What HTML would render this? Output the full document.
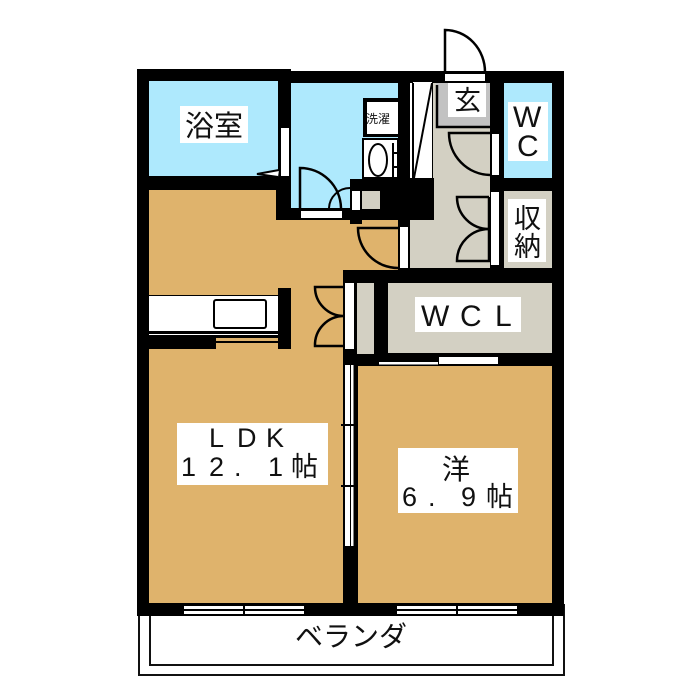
<!DOCTYPE html>
<html><head><meta charset="utf-8"><style>html,body{margin:0;padding:0;background:#fff}svg{display:block}
text{font-family:"Liberation Sans","Noto Sans CJK JP",sans-serif;fill:#111}</style></head><body>
<svg width="700" height="700" viewBox="0 0 700 700" xmlns="http://www.w3.org/2000/svg">
<rect width="700" height="700" fill="#fff"/>
<!-- veranda -->
<rect x="139" y="605" width="425" height="70" fill="none" stroke="#111" stroke-width="2"/>
<rect x="150" y="605" width="403" height="60" fill="none" stroke="#111" stroke-width="2"/>
<!-- walls -->
<rect x="137" y="69" width="154" height="30" fill="#000"/>
<rect x="291" y="71" width="273" height="545" fill="#000"/>
<rect x="137" y="81" width="220" height="535" fill="#000"/>
<!-- colored rooms -->
<rect x="149" y="81" width="129" height="95" fill="#aee9fd"/>
<rect x="291" y="83" width="107" height="96" fill="#aee9fd"/>
<rect x="291" y="179" width="59" height="29" fill="#aee9fd"/>
<rect x="504" y="83" width="48" height="95" fill="#aee9fd"/>
<path d="M149 190H276V220H398V270H343V349H291V288H278V295H149Z" fill="#dfb36c"/>
<rect x="149" y="349" width="194" height="254" fill="#dfb36c"/>
<rect x="216" y="338" width="62" height="11" fill="#dfb36c"/>
<rect x="358" y="366" width="194" height="237" fill="#dfb36c"/>
<rect x="388" y="283" width="164" height="70" fill="#d3d0c3"/>
<rect x="357" y="283" width="17" height="71" fill="#d3d0c3"/>
<rect x="504" y="191" width="48" height="77" fill="#d3d0c3"/>
<path d="M433 83H490V268H410V220H434V178H433Z" fill="#d3d0c3"/>
<rect x="436" y="83" width="54" height="44" fill="#c2c2c2"/>
<rect x="362" y="191" width="18" height="18" fill="#d3d0c3"/>
<rect x="350" y="220" width="12" height="4" fill="#000"/>
<!-- white strips -->
<g fill="#fff">
<rect x="281" y="128" width="8" height="48"/>
<rect x="301" y="211" width="41" height="7"/>
<rect x="352" y="191" width="8" height="19"/>
<rect x="400" y="227" width="8" height="41"/>
<rect x="410" y="83" width="3" height="95"/>
<rect x="413" y="82" width="19" height="96"/>
<rect x="445" y="74" width="40" height="7"/>
<rect x="492" y="134" width="7" height="41"/>
<rect x="491" y="192" width="8" height="73"/>
<rect x="345" y="283" width="9" height="66"/>
<rect x="379" y="362" width="59" height="2.5"/>
<rect x="439" y="357" width="59" height="7"/>
<rect x="345" y="365" width="5" height="181"/>
<rect x="351" y="365" width="2.5" height="181"/>
<rect x="184" y="606" width="120" height="3"/>
<rect x="184" y="611" width="120" height="3"/>
<rect x="397" y="606" width="120" height="3"/>
<rect x="397" y="611" width="120" height="3"/>
<rect x="149" y="296" width="129" height="35"/>
<rect x="149" y="334" width="129" height="1.5"/>
</g>
<!-- kitchen -->
<rect x="214" y="300" width="52" height="28" rx="2" fill="#fff" stroke="#000" stroke-width="2"/>
<rect x="149" y="331" width="129" height="2" fill="#000"/>
<rect x="149" y="335" width="129" height="3" fill="#000"/>
<rect x="216" y="341" width="62" height="2" fill="#000"/>
<rect x="149" y="337" width="67" height="12" fill="#000"/>
<rect x="278" y="288" width="13" height="61" fill="#000"/>
<!-- washer -->
<rect x="363" y="98" width="35" height="39" fill="#000"/>
<rect x="367" y="102" width="31" height="32" fill="#fff"/>
<rect x="363" y="139" width="35" height="39" fill="#fff" stroke="#000" stroke-width="2"/>
<ellipse cx="378" cy="160" rx="9" ry="16" fill="#fff" stroke="#000" stroke-width="2"/>
<path d="M393 143V178M393 153H398M393 167H398" stroke="#000" stroke-width="2" fill="none"/>
<!-- lines and doors -->
<g fill="none" stroke="#000" stroke-width="2">
<path d="M414 178L432 83"/>
<path d="M413 83V178"/>
<path d="M445 72V30A40 42 0 0 1 485 72" stroke-width="2.5"/>
<path d="M437 85V127H490" stroke-width="2.5"/>
<path d="M491 133H449A42 42 0 0 0 490 175" stroke-width="2.5"/>
<path d="M489 197H457A32 32 0 0 0 489 229A32 32 0 0 0 457 261H489V197" stroke-width="2.5"/>
<path d="M300 210V168A41 41 0 0 1 341 208" stroke-width="2.5"/>
<path d="M329 208A21 21 0 0 1 350 188" stroke-width="2"/>
<path d="M398 228H358A40 40 0 0 0 398 268" stroke-width="2.5"/>
<path d="M344 287H315A29 29 0 0 0 344 316A29 29 0 0 0 315 346H344" stroke-width="2.5"/>
<path d="M279 170L257 174L278 177" fill="#fff"/>
<path d="M341 425H357M341 486H357M244 604V615M457 604V615" stroke-width="2"/>
</g>
<!-- label backs -->
<g fill="#fff">
<rect x="180" y="106" width="68" height="37"/>
<rect x="448" y="83" width="38" height="34"/>
<rect x="508" y="102" width="40" height="59"/>
<rect x="508" y="199" width="38" height="63"/>
<rect x="415" y="297" width="106" height="35"/>
<rect x="177" y="423" width="151" height="62"/>
<rect x="398" y="448" width="120" height="65"/>
</g>
<!-- labels -->
<text x="185" y="136" font-size="29">浴室</text>
<text x="366" y="123" font-size="12">洗濯</text>
<text x="454" y="110" font-size="27">玄</text>
<text x="513" y="127" font-size="30">W</text>
<text x="517" y="156" font-size="30">C</text>
<text x="514" y="228" font-size="27">収</text>
<text x="514" y="256" font-size="27">納</text>
<text x="421" y="326" font-size="30">W</text>
<text x="460" y="326" font-size="30">C</text>
<text x="495" y="326" font-size="30">L</text>
<text x="209" y="447" font-size="27">L</text>
<text x="237" y="447" font-size="27">D</text>
<text x="266" y="447" font-size="27">K</text>
<text x="181" y="476" font-size="27">1</text>
<text x="209" y="476" font-size="27">2</text>
<text x="234" y="476" font-size="27">.</text>
<text x="268" y="476" font-size="27">1</text>
<text x="291" y="476" font-size="27">帖</text>
<text x="442" y="479" font-size="28">洋</text>
<text x="402" y="506" font-size="27">6</text>
<text x="428" y="506" font-size="27">.</text>
<text x="461" y="506" font-size="27">9</text>
<text x="486" y="506" font-size="27">帖</text>
<text x="295" y="646" font-size="28">ベランダ</text>
</svg>
</body></html>
